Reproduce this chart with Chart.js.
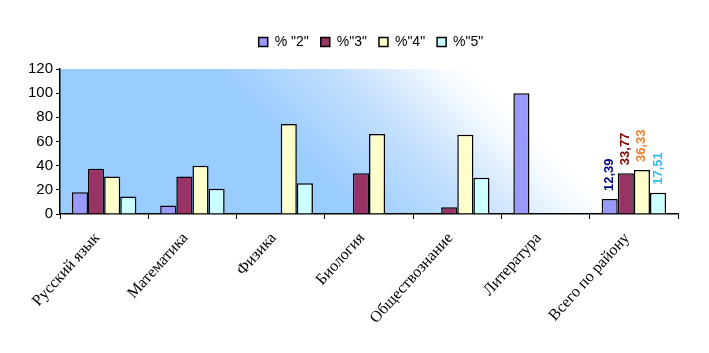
<!DOCTYPE html>
<html>
<head>
<meta charset="utf-8">
<script src="https://cdn.jsdelivr.net/npm/chart.js@4"></script>
<style>
  html, body { margin: 0; padding: 0; background: #ffffff; }
  #grafico { display: block; }
</style>
</head>
<body>
<canvas id="grafico" width="709" height="353"></canvas>
<script>
// Datos
const categorias = ['Русский язык', 'Математика', 'Физика', 'Биология', 'Обществознание', 'Литература', 'Всего по району'];
const serieNombres = ['% "2"', '%"3"', '%"4"', '%"5"'];
const valores2 = [18, 7, 0, 0, 0, 100, 12.39];
const valores3 = [37.5, 31, 0, 33.7, 5.5, 0, 33.77];
const valores4 = [31, 40, 74.5, 66.3, 65.5, 0, 36.33];
const valores5 = [14.5, 21, 25.5, 0, 30, 0, 17.51];
const ticksY = [0, 20, 40, 60, 80, 100, 120];

const coloresBarra = ['#9999ff', '#993366', '#ffffcc', '#ccffff'];
const coloresEtiqueta = ['#000080', '#800000', '#f07f2a', '#33bbee'];

// Fondo del área del gráfico con degradado azul -> blanco (diagonal)
const fondoPlugin = {
    id: 'fondo',
    beforeDraw(chart) {
        const { ctx, chartArea: a } = chart;
        const x0 = a.left + 225, y0 = (a.top + a.bottom) / 2;
        const grad = ctx.createLinearGradient(x0, y0, x0 + 130, y0 - 130);
        grad.addColorStop(0, '#99ccff');
        grad.addColorStop(0.5, '#c6e1fe');
        grad.addColorStop(0.85, '#f3f9ff');
        grad.addColorStop(1, '#ffffff');
        ctx.save();
        ctx.fillStyle = grad;
        ctx.fillRect(a.left, a.top, a.right - a.left, a.bottom - a.top);
        ctx.restore();
    }
};

// Mover la leyenda un poco (a la derecha y hacia arriba)
const leyendaPlugin = {
    id: 'leyendaPos',
    afterLayout(chart) {
        const lg = chart.legend;
        if (!lg) return;
        lg.left += 32;
        lg.right += 32;
        lg.top -= 10;
        lg.bottom -= 10;
    }
};

// Etiquetas verticales solo en la última categoría
const etiquetasPlugin = {
    id: 'etiquetas',
    afterDatasetsDraw(chart) {
        const ctx = chart.ctx;
        const ultimo = categorias.length - 1;
        chart.data.datasets.forEach((ds, i) => {
            const bar = chart.getDatasetMeta(i).data[ultimo];
            const texto = ds.data[ultimo].toFixed(2).replace('.', ',');
            ctx.save();
            ctx.translate(bar.x, bar.y - 8);
            ctx.rotate(-Math.PI / 2);
            ctx.font = 'bold 13px "Liberation Sans", Arial, sans-serif';
            ctx.fillStyle = coloresEtiqueta[i];
            ctx.textAlign = 'left';
            ctx.textBaseline = 'middle';
            ctx.fillText(texto, 0, 0);
            ctx.restore();
        });
    }
};

const series = [valores2, valores3, valores4, valores5];

new Chart(document.getElementById('grafico').getContext('2d'), {
    type: 'bar',
    data: {
        labels: categorias,
        datasets: series.map((v, i) => ({
            label: serieNombres[i],
            data: v,
            backgroundColor: coloresBarra[i],
            borderColor: '#000000',
            borderWidth: 1.5,
            categoryPercentage: 0.73,
            barPercentage: 1
        }))
    },
    options: {
        responsive: false,
        animation: false,
        layout: { padding: { top: 33, right: 31, left: 0, bottom: 0 } },
        plugins: {
            legend: {
                position: 'top',
                labels: {
                    font: { family: '"Liberation Sans", Arial, sans-serif', size: 14 },
                    color: '#000000',
                    boxWidth: 9,
                    boxHeight: 9,
                    padding: 12,
                    useBorderRadius: false
                }
            },
            tooltip: { enabled: false }
        },
        scales: {
            x: {
                grid: { display: true, drawOnChartArea: false, color: '#000000', tickLength: 5, offset: true },
                border: { color: '#000000', width: 1.5 },
                ticks: {
                    font: { family: '"Liberation Serif", "Times New Roman", serif', size: 16 },
                    color: '#000000',
                    minRotation: 48,
                    maxRotation: 48,
                    padding: 10,
                    labelOffset: -7,
                    autoSkip: false
                },
                afterFit(scale) { scale.height = 139; }
            },
            y: {
                min: 0,
                max: 120,
                afterBuildTicks(scale) { scale.ticks = ticksY.map(v => ({ value: v })); },
                grid: { display: true, drawOnChartArea: false, color: '#000000', tickLength: 4 },
                border: { color: '#000000', width: 1.5 },
                ticks: {
                    font: { family: '"Liberation Sans", Arial, sans-serif', size: 15 },
                    color: '#000000',
                    padding: 3
                },
                afterFit(scale) { scale.width = 60; }
            }
        }
    },
    plugins: [fondoPlugin, leyendaPlugin, etiquetasPlugin]
});
</script>
</body>
</html>
